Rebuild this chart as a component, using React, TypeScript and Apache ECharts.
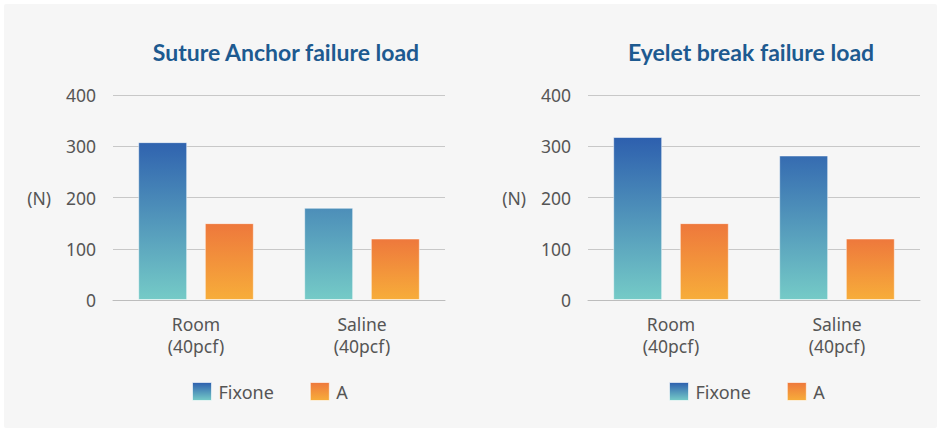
import React, { useEffect, useRef } from "react";
import * as echarts from "echarts";

const categories = ["Room\n(40pcf)", "Saline\n(40pcf)"];
const seriesNames = ["Fixone", "A"];
const yTicks = [0, 100, 200, 300, 400];
const leftTitle = "Suture Anchor failure load";
const rightTitle = "Eyelet break failure load";
const leftFixone = [308, 180];
const leftA = [150, 120];
const rightFixone = [318, 282];
const rightA = [150, 120];

const blueTop = "#2d5fae";
const blueBottom = "#75cbc7";
const orangeTop = "#ee783c";
const orangeBottom = "#f7ad3a";

export default function App() {
  const ref = useRef<HTMLDivElement>(null);
  useEffect(() => {
    if (!ref.current) return;
    const chart = echarts.init(ref.current, null, { renderer: "svg" });
    const blueGlobal = new echarts.graphic.LinearGradient(0, 137, 0, 300, [
      { offset: 0, color: blueTop },
      { offset: 1, color: blueBottom },
    ], true);
    const blueLocal = new echarts.graphic.LinearGradient(0, 0, 0, 1, [
      { offset: 0, color: blueTop },
      { offset: 1, color: blueBottom },
    ]);
    const orangeLocal = new echarts.graphic.LinearGradient(0, 0, 0, 1, [
      { offset: 0, color: orangeTop },
      { offset: 1, color: orangeBottom },
    ]);
    const font = "'Noto Sans', sans-serif";
    const grids = [
      { left: 113, width: 332, top: 95, height: 205 },
      { left: 588, width: 332, top: 95, height: 205 },
    ];
    const mkX = (gi: number) => ({
      type: "category",
      gridIndex: gi,
      data: categories,
      axisTick: { show: false },
      axisLine: { lineStyle: { color: "#bdbdbd", width: 1 } },
      axisLabel: { color: "#555", fontSize: 17.5, fontFamily: font, lineHeight: 22, margin: 13 },
    });
    const mkY = (gi: number) => ({
      type: "value",
      gridIndex: gi,
      min: yTicks[0],
      max: yTicks[yTicks.length - 1],
      interval: 100,
      name: "(N)",
      nameLocation: "middle",
      nameRotate: 0,
      nameGap: 62,
      nameTextStyle: { color: "#555", fontSize: 17.5, fontFamily: font },
      axisLine: { show: false },
      axisTick: { show: false },
      axisLabel: { color: "#555", fontSize: 17.5, fontFamily: font, margin: 17 },
      splitLine: { lineStyle: { color: "#c8c8c8", width: 1 } },
    });
    const barCommon = {
      type: "bar",
      barWidth: 49,
      barGap: "36%",
    };
    const mkLegend = (left: number) => ({
      left,
      top: 382,
      padding: 0,
      itemWidth: 19,
      itemHeight: 18,
      itemGap: 36,
      icon: "rect",
      selectedMode: false,
      textStyle: { color: "#555", fontSize: 18, fontFamily: font, padding: [0, 0, 0, 2] },
      data: [
        { name: seriesNames[0], itemStyle: { color: blueLocal, borderColor: "rgba(255,255,255,0.6)", borderWidth: 1 } },
        { name: seriesNames[1], itemStyle: { color: orangeLocal, borderColor: "rgba(255,255,255,0.6)", borderWidth: 1 } },
      ],
    });
    const titleStyle = { color: "#1d5a90", fontSize: 23, fontWeight: "bold", fontFamily: "Lato, sans-serif" };
    chart.setOption({
      animation: false,
      backgroundColor: "#ffffff",
      graphic: [
        { type: "rect", left: 4, top: 4, z: -10, shape: { width: 933, height: 424, r: 2 }, style: { fill: "#f6f6f6" } },
      ],
      title: [
        { text: leftTitle, left: 281, top: 35, textAlign: "center", textStyle: titleStyle },
        { text: rightTitle, left: 746, top: 35, textAlign: "center", textStyle: titleStyle },
      ],
      legend: [mkLegend(192), mkLegend(669)],
      grid: grids,
      xAxis: [mkX(0), mkX(1)],
      yAxis: [mkY(0), mkY(1)],
      series: [
        { ...barCommon, name: seriesNames[0], xAxisIndex: 0, yAxisIndex: 0, data: leftFixone, itemStyle: { color: blueGlobal, borderColor: "rgba(255,255,255,0.5)", borderWidth: 1 } },
        { ...barCommon, name: seriesNames[1], xAxisIndex: 0, yAxisIndex: 0, data: leftA, itemStyle: { color: orangeLocal, borderColor: "rgba(255,255,255,0.5)", borderWidth: 1 } },
        { ...barCommon, name: seriesNames[0], xAxisIndex: 1, yAxisIndex: 1, data: rightFixone, itemStyle: { color: blueGlobal, borderColor: "rgba(255,255,255,0.5)", borderWidth: 1 } },
        { ...barCommon, name: seriesNames[1], xAxisIndex: 1, yAxisIndex: 1, data: rightA, itemStyle: { color: orangeLocal, borderColor: "rgba(255,255,255,0.5)", borderWidth: 1 } },
      ],
    });
    return () => chart.dispose();
  }, []);
  return (
    <div
      ref={ref}
      style={{ position: "absolute", left: 0, top: 0, width: 939, height: 430 }}
    />
  );
}
